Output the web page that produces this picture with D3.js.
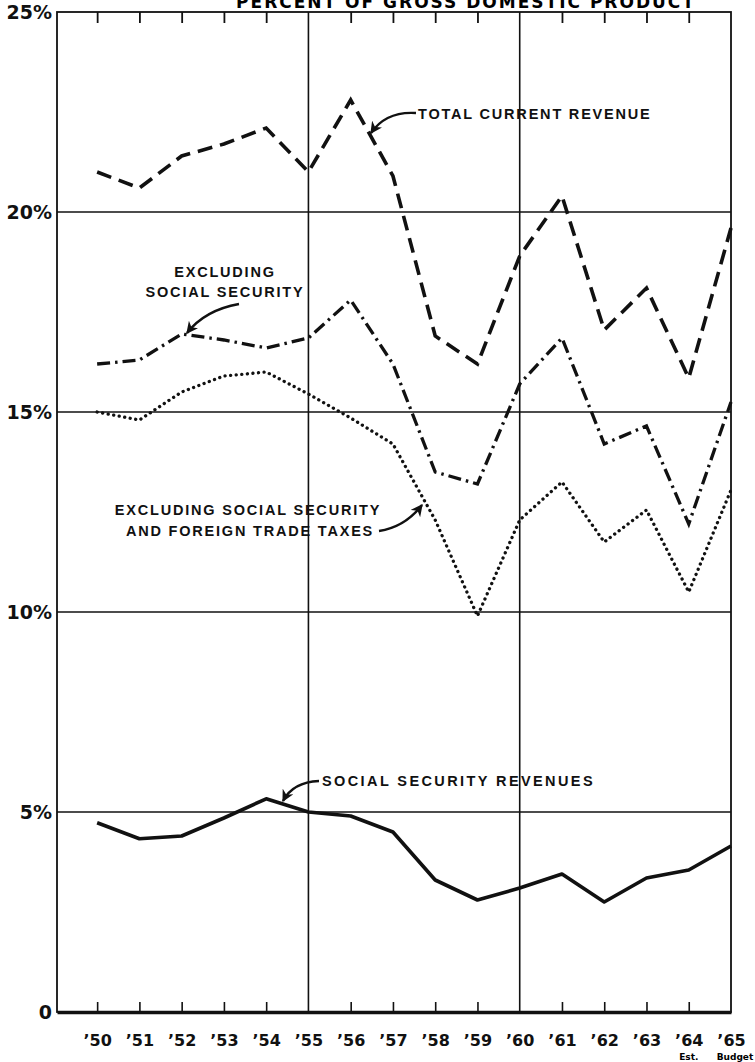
<!DOCTYPE html>
<meta charset="utf-8">
<head>
<style>
body { margin: 0; background: #fff; }
svg { display: block; }
.tick text { font-family: "DejaVu Sans", sans-serif; font-weight: bold; fill: #111; }
.note { font-family: "Liberation Sans", Arial, sans-serif; font-weight: bold; font-size: 14.5px; letter-spacing: 1.8px; fill: #111; }
</style>
</head>
<script src="https://d3js.org/d3.v7.min.js"></script>
<div id="chart"></div>
<script>

// years on the x axis
var years = [1950,1951,1952,1953,1954,1955,1956,1957,1958,1959,1960,1961,1962,1963,1964,1965];

// percent of gross domestic product
var totalRevenue = [21.0,20.6,21.4,21.7,22.1,21.0,22.8,20.9,16.9,16.2,18.9,20.4,17.05,18.1,15.85,19.6];
var exclSocialSecurity = [16.2,16.3,16.95,16.8,16.6,16.85,17.8,16.2,13.5,13.2,15.7,16.85,14.2,14.65,12.2,15.25];
var exclSocialTrade = [15.0,14.8,15.5,15.9,16.0,15.45,14.85,14.2,12.3,9.9,12.3,13.25,11.75,12.55,10.5,13.05];
var socialSecurity = [4.73,4.33,4.4,4.85,5.33,5.0,4.9,4.5,3.3,2.8,3.1,3.45,2.75,3.35,3.55,4.15];

var yTicks = [0,5,10,15,20,25];
var gridY = [5,10,15,20];
var gridX = [1955,1960];

var margin = {top: 12, right: 24, bottom: 50, left: 57},
    width = 755 - margin.left - margin.right,
    height = 1062 - margin.top - margin.bottom;

var svg = d3.select("#chart")
  .append("svg")
    .attr("width", 755)
    .attr("height", 1062);

// title, cut off at the very top like the scan
svg.append("text")
  .attr("x", 466)
  .attr("y", 8)
  .attr("text-anchor", "middle")
  .style("font-family", "DejaVu Sans, sans-serif")
  .style("font-weight", "bold")
  .style("font-size", "17px")
  .style("letter-spacing", "2px")
  .text("PERCENT OF GROSS DOMESTIC PRODUCT");

var g = svg.append("g")
  .attr("transform", "translate(" + margin.left + "," + margin.top + ")");

var x = d3.scaleLinear()
  .domain([1949.05, 1965])
  .range([0, width]);

var y = d3.scaleLinear()
  .domain([0, 25])
  .range([height, 0]);

// grid lines
g.selectAll(".gy")
  .data(gridY)
  .enter().append("line")
    .attr("x1", 0).attr("x2", width)
    .attr("y1", function(d) { return y(d); })
    .attr("y2", function(d) { return y(d); })
    .attr("stroke", "#111").attr("stroke-width", 1.6);

g.selectAll(".gx")
  .data(gridX)
  .enter().append("line")
    .attr("x1", function(d) { return x(d); })
    .attr("x2", function(d) { return x(d); })
    .attr("y1", 0).attr("y2", height)
    .attr("stroke", "#111").attr("stroke-width", 1.6);

// frame
g.append("rect")
  .attr("width", width).attr("height", height)
  .attr("fill", "none").attr("stroke", "#111").attr("stroke-width", 1.8);

// bottom axis with inward ticks
var xAxis = g.append("g")
  .attr("transform", "translate(0," + height + ")")
  .call(d3.axisBottom(x)
    .tickValues(years.filter(function(d) { return gridX.indexOf(d) < 0 && d != 1965; }))
    .tickSizeInner(-10).tickSizeOuter(0)
    .tickFormat(""));
xAxis.select(".domain").attr("stroke", "#111").attr("stroke-width", 3.5);
xAxis.selectAll(".tick line").attr("stroke", "#111").attr("stroke-width", 1.6);

var xLabels = g.append("g")
  .attr("transform", "translate(0," + height + ")")
  .call(d3.axisBottom(x)
    .tickValues(years)
    .tickSize(0).tickPadding(23)
    .tickFormat(function(d) { return "\u2019" + String(d).slice(2); }));
xLabels.select(".domain").remove();
xLabels.selectAll(".tick text").style("font-size", "16px");

// top axis ticks
var topAxis = g.append("g")
  .call(d3.axisTop(x)
    .tickValues(years.filter(function(d) { return gridX.indexOf(d) < 0 && d != 1965; }))
    .tickSizeInner(-11).tickSizeOuter(0)
    .tickFormat(""));
topAxis.select(".domain").remove();
topAxis.selectAll(".tick line").attr("stroke", "#111").attr("stroke-width", 1.8);

// left axis labels
var yAxis = g.append("g")
  .call(d3.axisLeft(y)
    .tickValues(yTicks)
    .tickSize(0).tickPadding(5)
    .tickFormat(function(d) { return d === 0 ? "0" : d + "%"; }));
yAxis.select(".domain").remove();
yAxis.selectAll(".tick text").style("font-size", "19px");

g.append("text")
  .attr("x", x(1964)).attr("y", height + 48)
  .attr("text-anchor", "middle")
  .style("font-family", "DejaVu Sans, sans-serif").style("font-weight", "bold")
  .style("font-size", "9px").text("Est.");
g.append("text")
  .attr("x", x(1965) + 4).attr("y", height + 48)
  .attr("text-anchor", "middle")
  .style("font-family", "DejaVu Sans, sans-serif").style("font-weight", "bold")
  .style("font-size", "9px").text("Budget");

// series
var line = d3.line()
  .x(function(d, i) { return x(years[i]); })
  .y(function(d) { return y(d); });

g.append("path").datum(totalRevenue)
  .attr("d", line).attr("fill", "none")
  .attr("stroke", "#111").attr("stroke-width", 3.6)
  .attr("stroke-dasharray", "15,8");

g.append("path").datum(exclSocialSecurity)
  .attr("d", line).attr("fill", "none")
  .attr("stroke", "#111").attr("stroke-width", 3.3)
  .attr("stroke-dasharray", "13,5,2.5,5");

g.append("path").datum(exclSocialTrade)
  .attr("d", line).attr("fill", "none")
  .attr("stroke", "#111").attr("stroke-width", 3.3)
  .attr("stroke-linecap", "round")
  .attr("stroke-dasharray", "0.1,5.5");

g.append("path").datum(socialSecurity)
  .attr("d", line).attr("fill", "none")
  .attr("stroke", "#111").attr("stroke-width", 3.6)
  .attr("stroke-linejoin", "round");

// arrows
svg.append("defs").append("marker")
  .attr("id", "arr")
  .attr("viewBox", "0 0 10 10")
  .attr("refX", 9).attr("refY", 5)
  .attr("markerWidth", 5).attr("markerHeight", 5)
  .attr("orient", "auto")
  .append("path")
    .attr("d", "M0,0 L10,5 L0,10 L3,5 Z")
    .attr("fill", "#111");

function arrow(x0, y0, cx, cy, x1, y1) {
  svg.append("path")
    .attr("d", "M" + x0 + "," + y0 + " Q" + cx + "," + cy + " " + x1 + "," + y1)
    .attr("fill", "none").attr("stroke", "#111").attr("stroke-width", 2.4)
    .attr("marker-end", "url(#arr)");
}

function note(tx, ty, txt, anchor, sp) {
  var t = svg.append("text").attr("class", "note")
    .attr("x", tx).attr("y", ty)
    .attr("text-anchor", anchor || "start")
    .text(txt);
  if (sp) t.style("letter-spacing", sp);
}

note(418, 119, "TOTAL CURRENT REVENUE");
arrow(416, 113, 386, 111, 371, 133);

note(225, 277, "EXCLUDING", "middle");
note(225, 297, "SOCIAL SECURITY", "middle");
arrow(239, 304, 205, 310, 187, 333);

note(248, 515, "EXCLUDING SOCIAL SECURITY", "middle");
note(250, 536, "AND FOREIGN TRADE TAXES", "middle");
arrow(379, 531, 405, 527, 422, 505);

note(322, 786, "SOCIAL SECURITY REVENUES", "start", "2.4px");
arrow(319, 781, 293, 782, 283, 801);

</script>
